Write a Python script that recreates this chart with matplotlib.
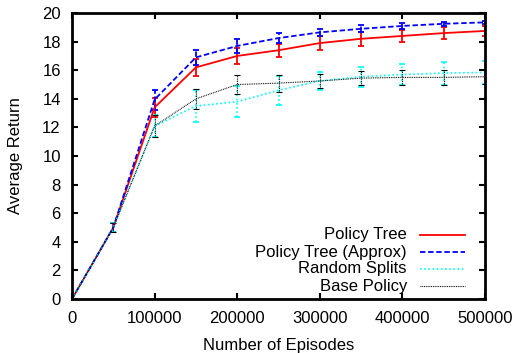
import numpy as np
import matplotlib
matplotlib.use("Agg")
import matplotlib.pyplot as plt

plt.rcParams['font.family'] = ['Liberation Sans', 'DejaVu Sans']
plt.rcParams['font.size'] = 12

# --- data ---
episodes = [0, 50000, 100000, 150000, 200000, 250000, 300000, 350000, 400000, 450000, 500000]

tree = [0, 5.0, 13.4, 16.2, 17.0, 17.4, 17.9, 18.2, 18.4, 18.6, 18.75]
tree_err = [0, 0.3, 0.65, 0.6, 0.55, 0.45, 0.5, 0.5, 0.4, 0.4, 0.35]

approx = [0, 5.0, 13.95, 16.9, 17.7, 18.25, 18.65, 18.9, 19.1, 19.25, 19.35]
approx_err = [0, 0.3, 0.7, 0.55, 0.5, 0.35, 0.25, 0.25, 0.2, 0.15, 0.1]

random_splits = [0, 5.0, 12.1, 13.5, 13.8, 14.6, 15.25, 15.55, 15.7, 15.8, 15.85]
random_err = [0, 0.3, 0.8, 1.1, 1.1, 1.0, 0.65, 0.7, 0.75, 0.8, 0.8]

base = [0, 5.0, 12.1, 14.0, 15.0, 15.1, 15.25, 15.45, 15.5, 15.5, 15.55]
base_err = [0, 0.3, 0.8, 0.7, 0.65, 0.6, 0.5, 0.5, 0.5, 0.5, 0.5]

labels = ["Policy Tree", "Policy Tree (Approx)", "Random Splits", "Base Policy"]
series = [(tree, tree_err), (approx, approx_err), (random_splits, random_err), (base, base_err)]
colors = ["#ff0000", "#0000ff", "#00ffff", "#000000"]
styles = ["-", (0, (3, 1.5)), (0, (1, 1.5)), (0, (0.8, 0.8))]
widths = [1.3, 1.3, 1.2, 0.8]

fig = plt.figure(figsize=(5.16, 3.53), dpi=100)
ax = fig.add_axes([0.1395, 0.153, 0.8005, 0.81])

for (y, e), c, ls, lw in zip(series, colors, styles, widths):
    ln, caps, bars = ax.errorbar(episodes, y, yerr=e, color=c, lw=lw, ls=ls,
                                 capsize=2, elinewidth=lw, capthick=lw)
    for b in bars:
        b.set_linestyle(ls)

# legend drawn by hand: gnuplot style, text right-aligned, sample on the right
ys = [0.224, 0.164, 0.105, 0.045]
for lab, c, ls, lw, yy in zip(labels, colors, styles, widths, ys):
    ax.text(0.811, yy, lab, transform=ax.transAxes, ha="right", va="center")
    ax.plot([0.843, 0.952], [yy, yy], transform=ax.transAxes, color=c, ls=ls, lw=lw)

ax.set_xlim(0, 500000)
ax.set_ylim(0, 20)
ax.set_xticks(range(0, 500001, 100000))
ax.set_yticks(range(0, 21, 2))
ax.tick_params(direction="in", top=True, right=True, width=1.5, length=4)
ax.tick_params(axis="x", pad=9)
ax.tick_params(axis="y", pad=8)
for s in ax.spines.values():
    s.set_linewidth(2)
ax.set_xlabel("Number of Episodes", labelpad=8)
ax.set_ylabel("Average Return", labelpad=14)

fig.savefig("out.png", dpi=100)
